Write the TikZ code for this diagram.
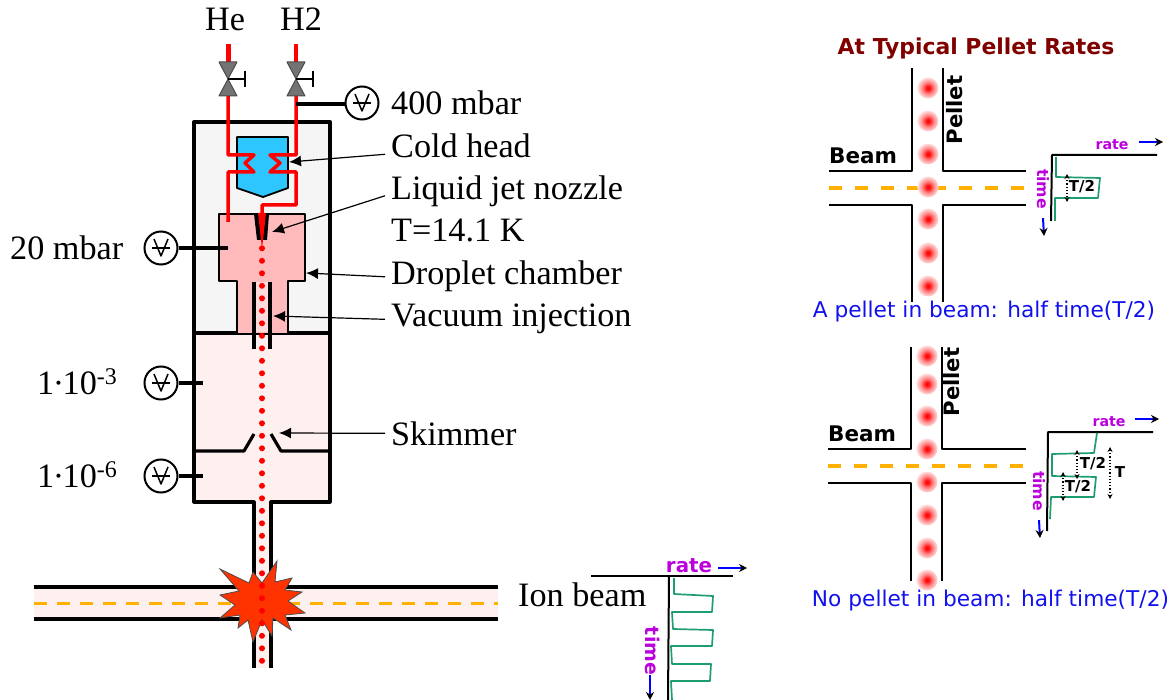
\documentclass[tikz,border=0pt]{standalone}
\usepackage{fontspec}
\setmainfont{Liberation Serif}
\newfontfamily\dejavu{DejaVu Sans}
\usepackage{xcolor}
\usetikzlibrary{arrows.meta, shapes.geometric}
\definecolor{beamorange}{RGB}{255,176,0}
\definecolor{pipered}{RGB}{255,0,0}
\definecolor{coldblue}{RGB}{46,198,255}
\definecolor{dropletpink}{RGB}{255,187,187}
\definecolor{vacuumpink}{RGB}{255,240,240}
\definecolor{housegray}{RGB}{245,245,245}
\definecolor{blastred}{RGB}{255,51,0}
\definecolor{tracegreen}{RGB}{30,158,110}
\definecolor{axispurple}{RGB}{187,0,221}
\definecolor{titlered}{RGB}{128,0,0}
\definecolor{captionblue}{RGB}{17,17,238}
\pgfdeclareradialshading{pelletglow}{\pgfpoint{0bp}{0bp}}{color(0bp)=(red); color(5bp)=(red!90!white); color(13bp)=(red!50!white); color(25bp)=(red!12!white); color(50bp)=(white)}

\begin{document}
\begin{tikzpicture}[
    x=1pt, y=-1pt,
    every node/.style={inner sep=0pt, font=\fontsize{34.2}{36}\selectfont},
    label/.style={anchor=base west},
    sanslabel/.style={font=\dejavu\bfseries\fontsize{#1}{#1}\selectfont},
    captionlabel/.style={font=\dejavu\fontsize{21.7}{22}\selectfont, text=captionblue},
    callout/.style={-{Latex[length=12pt,width=11pt]}, line width=1.2pt},
    gaugering/.style={circle, draw, fill=white, line width=2pt, minimum size=33pt},
    gaugemark/.style={line width=1.5pt, line join=round},
    stub/.style={line width=4pt},
    wall/.style={line width=3.2pt, line join=round},
    pipe/.style={draw=pipered, line width=3.5pt, line join=round},
    valvecone/.style={draw=black!70, fill=black!55, line width=1pt, line join=round},
    pipeline/.style={line width=1.8pt, line join=round},
    centerline/.style={draw=beamorange, line width=#1, dash pattern=on 13pt off 13pt},
    pellet/.style={circle, minimum size=21pt, shading=pelletglow},
    axisline/.style={line width=2pt, line join=round},
    trace/.style={draw=tracegreen, line width=1.7pt, line join=round},
    flowarrow/.style={draw=blue, line width=2pt, -{Stealth[length=8pt,width=8pt,black]}},
    period/.style={{Stealth[length=5pt,width=5pt]}-{Stealth[length=5pt,width=5pt]}, line width=1.2pt, dotted}
]
\useasboundingbox (0,0) rectangle (1175,700);

% main apparatus
\draw[wall, line width=4pt, fill=housegray] (194,122) rectangle (330,333);
\fill[vacuumpink] (194,333) -- (330,333) -- (330,502) -- (271,502) -- (271,668) -- (254,668) -- (254,502) -- (194,502) -- cycle;
\draw[wall] (330,333) -- (330,502) -- (271,502) -- (271,668);
\draw[wall] (194,333) -- (194,502) -- (254,502) -- (254,668);
\draw[wall, line width=4pt] (194,122) -- (194,333) -- (330,333) -- (330,122);
\draw[wall, fill=coldblue, line width=1.8pt] (237,137) -- (288,137) -- (288,188) -- (263,197) -- (237,188) -- cycle;
\draw[wall, fill=dropletpink, line width=2.8pt] (237,333) -- (237,281) -- (219,281) -- (219,214) -- (305,214) -- (305,281) -- (288,281) -- (288,333);
\fill[vacuumpink!60!dropletpink] (254,282) rectangle (270,332);
\draw[wall, line width=4.5pt] (254,282) -- (254,349);
\draw[wall, line width=4.5pt] (270,282) -- (270,349);
\draw[wall] (194,451) -- (244,451) -- (254,434);
\draw[wall] (330,451) -- (281,451) -- (271,434);

% ion beam
\fill[vacuumpink] (34,587) rectangle (498,619);
\draw[centerline=3pt, dash pattern=on 13pt off 10pt] (34,603) -- (498,603);
\draw[wall, line width=3.5pt] (34,587) -- (498,587);
\draw[wall, line width=3.5pt] (34,619) -- (498,619);

% gas lines
\draw[pipe, line width=5pt] (228,44) -- (228,62);
\draw[pipe, line width=4.5pt] (296,44) -- (296,62);
\draw[pipe] (228,96) -- (228,155) -- (254,155) -- (245,163) -- (254,172) -- (228,172) -- (228,222);
\draw[pipe] (296,96) -- (296,155) -- (270,155) -- (280,163) -- (270,172) -- (296,172) -- (296,205) -- (262,205) -- (262,216);
\fill (254,214) -- (269,214) -- (267,240) -- (257,240) -- cycle;
\fill[pipered] (258,213) -- (266,213) -- (262,249) -- cycle;
\foreach \px in {228,296} {
    \draw[valvecone] (\px-9,62) -- (\px+9,62) -- (\px,79) -- cycle;
    \draw[valvecone] (\px-9,96) -- (\px+9,96) -- (\px,79) -- cycle;
    \draw[line width=2pt] (\px,79) -- (\px+17,79);
    \draw[line width=2pt] (\px+17,71) -- (\px+17,87);
}

% explosion
\draw[fill=blastred, draw=black!70, line width=0.8pt]
    (220,569) -- (249,583) -- (253,572) -- (262,583) -- (277,561) -- (275,582) -- (292,578) -- (285,590) -- (302,592)
    -- (288,601) -- (305,613) -- (285,615) -- (291,630) -- (273,618) -- (272,636) -- (262,620) -- (253,642) -- (248,620)
    -- (238,628) -- (240,615) -- (220,618) -- (235,605) -- (220,595) -- (239,591) -- cycle;

% pellet stream
\foreach \i in {0,...,33} {
    \fill[pipered] (262,{248.3+12.5*\i}) circle (3);
}

% gauges
\foreach \gname/\px/\py in {gaugetop/362/103, gaugetwenty/161/248, gaugethree/161/383, gaugesix/161/476} {
    \node[gaugering] (\gname) at (\px,\py) {};
    \begin{scope}[shift={(\px,\py)}]
        \draw[gaugemark] (-9,0) -- (9,0);
        \draw[gaugemark] (-7,-9) -- (0,8) -- (7,-9);
    \end{scope}
}
\coordinate (stubtop) at (296,104);
\coordinate (stubtwenty) at (228,248);
\coordinate (stubthree) at (203,383);
\coordinate (stubsix) at (203,476);
\draw[stub] (gaugetop) ++(-17,1) -- (stubtop);
\draw[stub] (gaugetwenty.east) -- (stubtwenty);
\draw[stub] (gaugethree.east) -- (stubthree);
\draw[stub] (gaugesix.east) -- (stubsix);

% labels
\node[label, anchor=base] (helabel) at (225,31) {He};
\node[label, anchor=base] (hlabel) at (301,31) {H2};
\node[label] (toplabel) at (391,115) {400 mbar};
\node[label] (coldlabel) at (391,158) {Cold head};
\node[label] (nozzlelabel) at (391,200) {Liquid jet nozzle};
\node[label] (templabel) at (391,242) {T=14.1 K};
\node[label] (chamberlabel) at (391,285) {Droplet chamber};
\node[label] (vacuumlabel) at (391,327) {Vacuum injection};
\node[label] (skimmerlabel) at (391,445) {Skimmer};
\node[label] (ionlabel) at (518,606) {Ion beam};
\node[label] (twentylabel) at (10,260) {20 mbar};
\node[label] (threelabel) at (37,394) {1\kern-1.5pt·\kern-1.5pt10\textsuperscript{-3}};
\node[label] (sixlabel) at (37,487) {1\kern-1.5pt·\kern-1.5pt10\textsuperscript{-6}};

\coordinate (coldtip) at (289,162);
\coordinate (nozzletip) at (272,232);
\coordinate (chambertip) at (306,273);
\coordinate (vacuumtip) at (273,316);
\coordinate (skimmertip) at (279,433);
\draw[callout] ([xshift=-6pt,yshift=-8pt]coldlabel.west) -- (coldtip);
\draw[callout] ([xshift=-6pt,yshift=-4pt]nozzlelabel.west) -- (nozzletip);
\draw[callout] ([xshift=-6pt]chamberlabel.west) -- (chambertip);
\draw[callout] ([xshift=-6pt]vacuumlabel.west) -- (vacuumtip);
\draw[callout] ([xshift=-6pt]skimmerlabel.west) -- (skimmertip);

% main rate plot
\draw[axisline] (591,576) -- (733,576);
\draw[axisline] (669,576) -- (668,700);
\draw[trace] (674,578) -- (674,594) -- (713,596) -- (712,612) -- (672,612) -- (673,629) -- (713,630) -- (712,646) -- (671,646) -- (672,664) -- (711,664) -- (710,681) -- (671,681) -- (672,700);
\node[sanslabel=19.8, text=axispurple] (mainrate) at (689,566) {rate};
\node[sanslabel=18.9, text=axispurple, rotate=-90] (maintime) at (653,651) {time};
\coordinate (mainratehead) at (747,568);
\coordinate (maintimehead) at (650,700);
\draw[flowarrow] ([xshift=6pt,yshift=-2pt]mainrate.east) -- (mainratehead);
\draw[flowarrow] ([xshift=-3pt]maintime.east) -- (maintimehead);

% title and pipes, upper panel
\node[sanslabel=21.9, text=titlered] (title) at (976,49) {At Typical Pellet Rates};
\draw[pipeline] (912,68) -- (912,171) -- (829,171);
\draw[pipeline] (943,68) -- (943,171) -- (1026,171);
\draw[pipeline] (829,205) -- (912,205) -- (912,302);
\draw[pipeline] (1026,205) -- (943,205) -- (943,302);
\draw[centerline=4pt] (829,187.7) -- (1029,187.7);
\foreach \py [count=\n] in {88,121,154,187,219,253,286} {
    \node[pellet] (pelletup\n) at (928,\py) {};
}
\node[sanslabel=21.5, anchor=base west] (beamup) at (829,164) {Beam};
\node[sanslabel=21.2, rotate=90] (pelletup) at (955,110) {Pellet};
\draw[axisline] (1157,155) -- (1052,155) -- (1051,221);
\draw[trace] (1056,157) -- (1056,177) -- (1100,178) -- (1098,198) -- (1055,198) -- (1055,221);
\node[sanslabel=14.2, text=axispurple] (rateup) at (1112,145) {rate};
\node[sanslabel=15.7, text=axispurple, rotate=-90] (timeup) at (1043,189) {time};
\coordinate (rateuphead) at (1163,142);
\coordinate (timeuphead) at (1044,236);
\draw[flowarrow] ([xshift=10pt,yshift=3pt]rateup.east) -- (rateuphead);
\draw[flowarrow] ([yshift=-9pt]timeup.east) -- (timeuphead);
\node[sanslabel=15] (halfup) at (1082,187) {T/2};
\coordinate (halfupa) at (1067,174);
\coordinate (halfupb) at (1067,202);
\draw[period] (halfupa) -- (halfupb);
\node[captionlabel] (captionup) at (984,311.5) {A pellet in beam: half time(T/2)};

% lower panel
\draw[pipeline] (911,347) -- (911,449) -- (828,449);
\draw[pipeline] (942,347) -- (942,449) -- (1026,449);
\draw[pipeline] (828,483) -- (911,483) -- (911,581);
\draw[pipeline] (1026,483) -- (942,483) -- (942,581);
\draw[centerline=4pt] (828,466) -- (1028,466);
\foreach \py [count=\n] in {356,384,416,449,482,515,548,580} {
    \node[pellet] (pelletdown\n) at (927,\py) {};
}
\node[sanslabel=21.5, anchor=base west] (beamdown) at (828,441) {Beam};
\node[sanslabel=21.2, rotate=90] (pelletdown) at (952,382) {Pellet};
\draw[axisline] (1153,432) -- (1048,432) -- (1047,531);
\draw[trace] (1097,433) -- (1094,453) -- (1052,454) -- (1052,476) -- (1096,477) -- (1094,497) -- (1051,497) -- (1050,519);
\node[sanslabel=14.2, text=axispurple] (ratedown) at (1109,422) {rate};
\node[sanslabel=15.7, text=axispurple, rotate=-90] (timedown) at (1039,491) {time};
\coordinate (ratedownhead) at (1159,419);
\coordinate (timedownhead) at (1040,538);
\draw[flowarrow] ([xshift=9pt,yshift=3pt]ratedown.east) -- (ratedownhead);
\draw[flowarrow] ([yshift=-9pt]timedown.east) -- (timedownhead);
\node[sanslabel=15] (halfdowna) at (1093,464) {T/2};
\node[sanslabel=15] (halfdownb) at (1078,487) {T/2};
\node[sanslabel=15] (fulldown) at (1120,472) {T};
\draw[period] (1077,450) coordinate (perioda) -- (1077,479) coordinate (periodb);
\draw[period] (1063,472) coordinate (periodc) -- (1063,501) coordinate (periodd);
\draw[period] (1110,447) coordinate (periode) -- (1110,499) coordinate (periodf);
\node[captionlabel] (captiondown) at (990.5,600.5) {No pellet in beam: half time(T/2)};
\end{tikzpicture}
\end{document}
